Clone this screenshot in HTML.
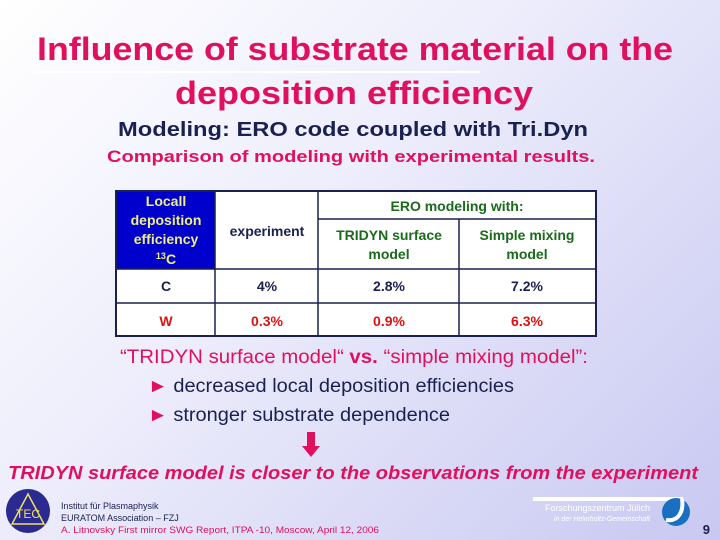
<!DOCTYPE html>
<html><head><meta charset="utf-8"><style>
html,body{margin:0;padding:0}
body{width:720px;height:540px;overflow:hidden;background:linear-gradient(135deg,#ffffff 0%,#eeeefc 40%,#c8c8f2 100%);font-family:"Liberation Sans",sans-serif}
svg{display:block}
</style></head><body>
<svg width="720" height="540" viewBox="0 0 720 540" font-family="Liberation Sans, sans-serif">
<g fill="#e0105e" font-weight="bold" font-size="32" text-anchor="middle">
<text x="355" y="60" textLength="636" lengthAdjust="spacingAndGlyphs">Influence of substrate material on the</text>
<text x="354" y="104" textLength="358" lengthAdjust="spacingAndGlyphs">deposition efficiency</text>
</g>
<rect x="35" y="71" width="445" height="2" fill="#ffffff"/>
<text x="353" y="136" font-size="20" font-weight="bold" fill="#1a2050" text-anchor="middle" textLength="470" lengthAdjust="spacingAndGlyphs">Modeling: ERO code coupled with Tri.Dyn</text>
<text x="351" y="162" font-size="17" font-weight="bold" fill="#e0105e" text-anchor="middle" textLength="488" lengthAdjust="spacingAndGlyphs">Comparison of modeling with experimental results.</text>

<g>
<rect x="116" y="191" width="480" height="145" fill="#ffffff" stroke="#1a2050" stroke-width="2"/>
<rect x="117" y="192" width="98" height="77" fill="#0000cc"/>
<g stroke="#1a2050" stroke-width="1.5">
<line x1="215" y1="191" x2="215" y2="336"/>
<line x1="318" y1="191" x2="318" y2="336"/>
<line x1="459" y1="219" x2="459" y2="336"/>
<line x1="318" y1="219" x2="596" y2="219"/>
<line x1="116" y1="269" x2="596" y2="269"/>
<line x1="116" y1="303" x2="596" y2="303"/>
</g>
<g fill="#f0f080" font-weight="bold" font-size="14" text-anchor="middle">
<text x="166" y="206">Locall</text>
<text x="166" y="225">deposition</text>
<text x="166" y="244">efficiency</text>
<text x="166" y="264"><tspan font-size="9" dy="-5">13</tspan><tspan font-size="14" dy="5">C</tspan></text>
</g>
<text x="267" y="236" font-size="14" font-weight="bold" fill="#1a2050" text-anchor="middle">experiment</text>
<g fill="#1a6a1a" font-weight="bold" font-size="14" text-anchor="middle">
<text x="457" y="211">ERO modeling with:</text>
<text x="389" y="240">TRIDYN surface</text>
<text x="389" y="259">model</text>
<text x="527" y="240">Simple mixing</text>
<text x="527" y="259">model</text>
</g>
<g fill="#1a2050" font-weight="bold" font-size="14" text-anchor="middle">
<text x="166" y="291">C</text><text x="267" y="291">4%</text><text x="389" y="291">2.8%</text><text x="527" y="291">7.2%</text>
</g>
<g fill="#dd1111" font-weight="bold" font-size="14" text-anchor="middle">
<text x="166" y="326">W</text><text x="267" y="326">0.3%</text><text x="389" y="326">0.9%</text><text x="527" y="326">6.3%</text>
</g>
</g>

<text x="120" y="363" font-size="19" fill="#e0105e" textLength="468" lengthAdjust="spacingAndGlyphs">“TRIDYN surface model“ <tspan font-weight="bold">vs.</tspan> “simple mixing model”:</text>
<g font-size="19" fill="#1a2050">
<text x="148" y="392" textLength="366" lengthAdjust="spacingAndGlyphs"><tspan fill="#e0105e">►</tspan> decreased local deposition efficiencies</text>
<text x="148" y="421" textLength="302" lengthAdjust="spacingAndGlyphs"><tspan fill="#e0105e">►</tspan> stronger substrate dependence</text>
</g>
<g fill="#e0105e">
<rect x="307" y="432" width="8" height="15"/>
<polygon points="302,446 320,446 311,457"/>
</g>
<text x="353" y="479" font-size="18" font-weight="bold" font-style="italic" fill="#e0105e" text-anchor="middle" textLength="690" lengthAdjust="spacingAndGlyphs">TRIDYN surface model is closer to the observations from the experiment</text>

<g>
<circle cx="28" cy="511" r="22" fill="#2a2a90"/>
<polygon points="28,494 44,524 12,524" fill="none" stroke="#f0e060" stroke-width="1.5"/>
<text x="28" y="518" font-size="12" fill="#f0e060" text-anchor="middle">TEC</text>
</g>
<g font-size="9">
<text x="61" y="509" fill="#1a2050">Institut für Plasmaphysik</text>
<text x="61" y="521" fill="#1a2050">EURATOM Association – FZJ</text>
<text x="61" y="533" fill="#e0105e" textLength="318" lengthAdjust="spacingAndGlyphs">A. Litnovsky First mirror SWG Report, ITPA -10, Moscow, April 12, 2006</text>
</g>
<rect x="533" y="497" width="150" height="4" fill="#ffffff"/>
<text x="650" y="511" font-size="9" fill="#ffffff" text-anchor="end">Forschungszentrum Jülich</text>
<text x="650" y="521" font-size="7" font-style="italic" fill="#ffffff" text-anchor="end">in der Helmholtz-Gemeinschaft</text>
<g>
<circle cx="676" cy="512" r="14" fill="#1a70c0"/>
<path d="M682,499 C684,512 678,522 666,520" stroke="#ffffff" stroke-width="4" fill="none"/>
</g>
<text x="710" y="534" font-size="13" font-weight="bold" fill="#1a2050" text-anchor="end">9</text>
</svg>
</body></html>
